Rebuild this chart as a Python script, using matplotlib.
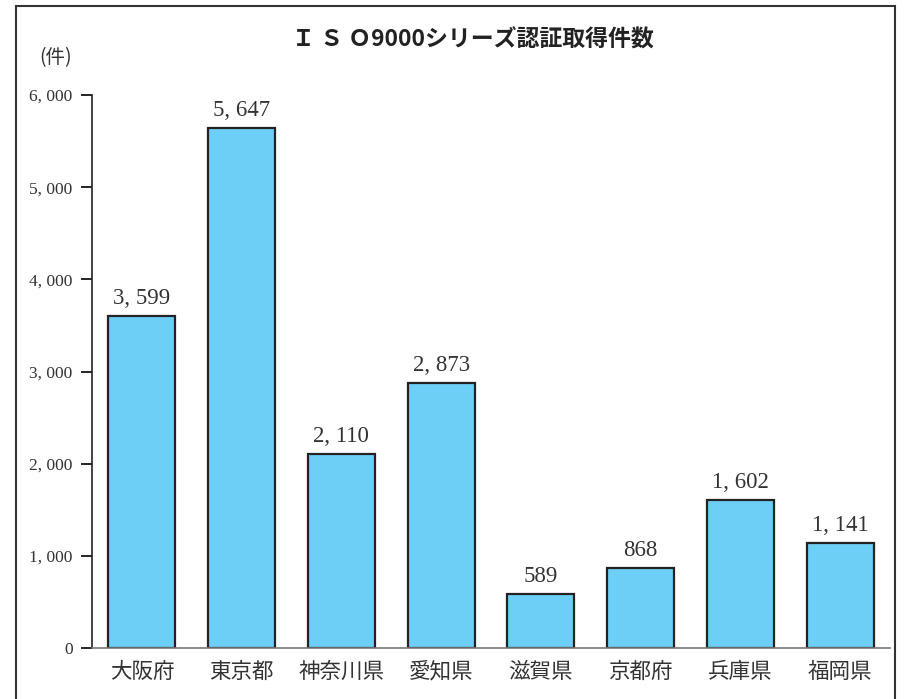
import matplotlib
matplotlib.use("Agg")
import matplotlib.pyplot as plt
from matplotlib.patches import Rectangle

prefectures = ["大阪府", "東京都", "神奈川県", "愛知県", "滋賀県", "京都府", "兵庫県", "福岡県"]
counts = [3599, 5647, 2110, 2873, 589, 868, 1602, 1141]
yticks = [0, 1000, 2000, 3000, 4000, 5000, 6000]

JP = ["Noto Sans CJK JP", "DejaVu Sans"]
SERIF = ["Liberation Serif", "DejaVu Serif"]
TEXT = "#333333"


def fmt(v):
    return f"{v:,}".replace(",", ", ")


fig = plt.figure(figsize=(9.08, 6.99), dpi=100)
ax = fig.add_axes([92 / 908, 1 - 648 / 699, (890 - 92) / 908, (648 - 95) / 699])

x = range(len(prefectures))
ax.bar(x, counts, width=0.67, color="#6dcff6", edgecolor="#222222", linewidth=1.6, zorder=2)
for xi, v in zip(x, counts):
    ax.annotate(fmt(v), (xi, v), xytext=(0, 5), textcoords="offset points",
                ha="center", va="bottom", fontsize=16.5, family=SERIF, color=TEXT)

ax.set_xlim(-0.5, 7.5)
ax.set_ylim(0, 6000)
ax.set_yticks(yticks)
ax.set_yticklabels([fmt(t) for t in yticks], family=SERIF, fontsize=12.5, color=TEXT)
ax.set_xticks(list(x))
ax.set_xticklabels(prefectures, family=JP, fontsize=15.5, color=TEXT)
ax.tick_params(axis="y", direction="out", length=8, width=1.2, pad=6)
ax.tick_params(axis="x", length=0, pad=9)
for s in ("top", "right"):
    ax.spines[s].set_visible(False)
ax.spines["left"].set_color("#222222")
ax.spines["left"].set_linewidth(1.2)
ax.spines["bottom"].set_color("#777777")
ax.spines["bottom"].set_linewidth(1.2)

# outer frame
fig.patches.append(Rectangle((16 / 908, -0.02), (895 - 16) / 908, 1.02 - 6 / 699,
                             transform=fig.transFigure, fill=False,
                             edgecolor="#333333", linewidth=1.5))

fig.text(473 / 908, 1 - 40 / 699, "Ｉ Ｓ Ｏ9000シリーズ認証取得件数", family=JP,
         fontsize=16.5, fontweight="bold", ha="center", va="center", color="#222222")
fig.text(56 / 908, 1 - 58 / 699, "(件)", family=JP, fontsize=14,
         ha="center", va="center", color=TEXT)

fig.savefig("out.png", dpi=100)
